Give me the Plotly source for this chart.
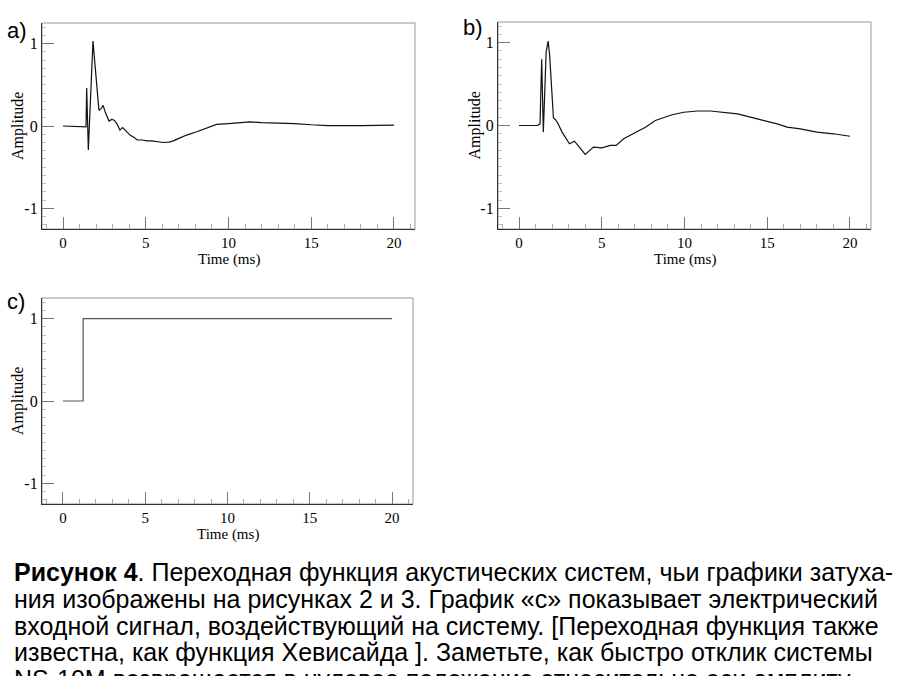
import plotly.graph_objects as go

# ---- data ----
t_a = [0, 1.39, 1.43, 1.53, 1.81, 2.17, 2.3, 2.42, 2.55, 2.78, 2.95, 3.1, 3.25, 3.44, 3.6, 3.8,
       4.05, 4.3, 4.49, 4.8, 5.06, 5.36, 5.7, 6.06, 6.4, 6.67, 7.0, 7.47, 8.08, 8.6, 9.28, 10.0,
       10.7, 11.3, 12.0, 13.0, 14.0, 15.0, 16.0, 18.0, 20.0]
amp_a = [0, -0.01, 0.46, -0.29, 1.03, 0.19, 0.21, 0.25, 0.17, 0.06, 0.08, 0.07, 0.03, -0.05, -0.02,
         -0.06, -0.11, -0.14, -0.17, -0.17, -0.18, -0.18, -0.19, -0.20, -0.195, -0.18, -0.15, -0.11,
         -0.07, -0.03, 0.02, 0.03, 0.04, 0.05, 0.04, 0.035, 0.03, 0.015, 0.005, 0.005, 0.01]

t_b = [0, 1.13, 1.27, 1.37, 1.47, 1.64, 1.76, 1.85, 2.08, 2.2, 2.34, 2.6, 3.05, 3.35, 3.6, 4.0,
       4.5, 5.0, 5.52, 5.88, 6.32, 7.03, 7.64, 8.24, 9.25, 9.96, 10.8, 11.57, 12.4, 13.2, 14.4,
       15.6, 16.2, 17.0, 18.0, 19.0, 20.0]
amp_b = [0, 0, 0.02, 0.80, -0.08, 0.89, 1.02, 0.85, 0.09, 0.07, 0.03, -0.08, -0.22, -0.19, -0.25,
         -0.35, -0.26, -0.27, -0.24, -0.24, -0.16, -0.09, -0.02, 0.06, 0.13, 0.16, 0.175, 0.175,
         0.16, 0.14, 0.08, 0.02, -0.02, -0.04, -0.08, -0.10, -0.13]

t_c = [0, 1.23, 1.23, 20]
amp_c = [0, 0, 1, 1]

x_ticks = [0, 5, 10, 15, 20]
y_ticks = [-1, 0, 1]
y_ticktext = ["-1", "0", "1"]
panel_labels = ["a)", "b)", "c)"]
x_title = "Time (ms)"
y_title = "Amplitude"

caption_lines = [
    "<b>Рисунок 4</b>. Переходная функция акустических систем, чьи графики затуха-",
    "ния изображены на рисунках 2 и 3. График «с» показывает электрический",
    "входной сигнал, воздействующий на систему. [Переходная функция также",
    "известна, как функция Хевисайда ]. Заметьте, как быстро отклик системы",
    "NS-10M возвращается в нулевое положение относительно оси амплиту-",
]

W, H = 904, 676

# panel boxes in pixels: (left, right, top, bottom)
boxes = [(42, 415, 23, 229), (498, 871, 22, 229), (42, 413, 298, 504)]
line_colors = ["#111111", "#111111", "#555555"]
series = [(t_a, amp_a), (t_b, amp_b), (t_c, amp_c)]

fig = go.Figure()
serif = "Liberation Serif, Times New Roman, serif"
sans = "Liberation Sans, Arial, sans-serif"

for i, ((tx, ty), (l, r, t, b)) in enumerate(zip(series, boxes)):
    n = "" if i == 0 else str(i + 1)
    fig.add_trace(go.Scatter(x=tx, y=ty, mode="lines",
                             line=dict(color=line_colors[i], width=1.2),
                             xaxis="x" + n, yaxis="y" + n, showlegend=False))
    xd = [l / W, r / W]
    yd = [1 - b / H, 1 - t / H]
    fig.layout["xaxis" + n] = dict(
        domain=xd, range=[-1.27, 21.27], anchor="y" + n, automargin=False,
        tickvals=x_ticks, ticks="inside", ticklen=12, tickcolor="#777", tickwidth=1,
        minor=dict(dtick=1, ticks="inside", ticklen=5, tickcolor="#aaa"),
        showgrid=False, zeroline=False, showline=True, linecolor="#333", linewidth=1.2,
        tickfont=dict(family=serif, size=15, color="black"),
        fixedrange=True,
    )
    fig.layout["yaxis" + n] = dict(
        domain=yd, range=[-1.25, 1.25], anchor="x" + n, automargin=False,
        tickvals=y_ticks, ticktext=y_ticktext, ticks="inside", ticklen=12, tickcolor="#777", tickwidth=1,
        minor=dict(dtick=0.1, ticks="inside", ticklen=4, tickcolor="#bbb"),
        showgrid=False, zeroline=False, showline=True, linecolor="#333", linewidth=1.2,
        tickfont=dict(family=serif, size=16, color="black"),
        fixedrange=True,
    )
    fig.add_shape(type="rect", xref="paper", yref="paper", x0=xd[0], x1=xd[1], y0=yd[0], y1=yd[1],
                  line=dict(color="#999", width=1), layer="below")
    # axis titles
    fig.add_annotation(text=x_title, xref="paper", yref="paper",
                       x=(xd[0] + xd[1]) / 2, y=1 - (b + 30) / H,
                       xanchor="center", yanchor="middle", showarrow=False,
                       font=dict(family=serif, size=15, color="black"))
    fig.add_annotation(text=y_title, xref="paper", yref="paper",
                       x=(l - 24) / W, y=(yd[0] + yd[1]) / 2, textangle=-90,
                       xanchor="center", yanchor="middle", showarrow=False,
                       font=dict(family=serif, size=16, color="black"))

label_pos = [(5, 31), (461, 28), (5, 301)]
for txt, (px, py) in zip(panel_labels, label_pos):
    fig.add_annotation(text=txt, xref="paper", yref="paper", x=px / W, y=1 - py / H,
                       xanchor="left", yanchor="middle", showarrow=False,
                       font=dict(family=sans, size=22, color="black"))

cap_y = [572, 599, 626, 652, 679]
for txt, py in zip(caption_lines, cap_y):
    fig.add_annotation(text=txt, xref="paper", yref="paper", x=12 / W, y=1 - py / H,
                       xanchor="left", yanchor="middle", showarrow=False,
                       font=dict(family=sans, size=25, color="black"))

fig.update_layout(width=W, height=H, margin=dict(l=0, r=0, t=0, b=0),
                  paper_bgcolor="white", plot_bgcolor="white", showlegend=False)

fig.write_html("out.html", config={"displayModeBar": False},
               post_script="document.body.style.margin='0';")
